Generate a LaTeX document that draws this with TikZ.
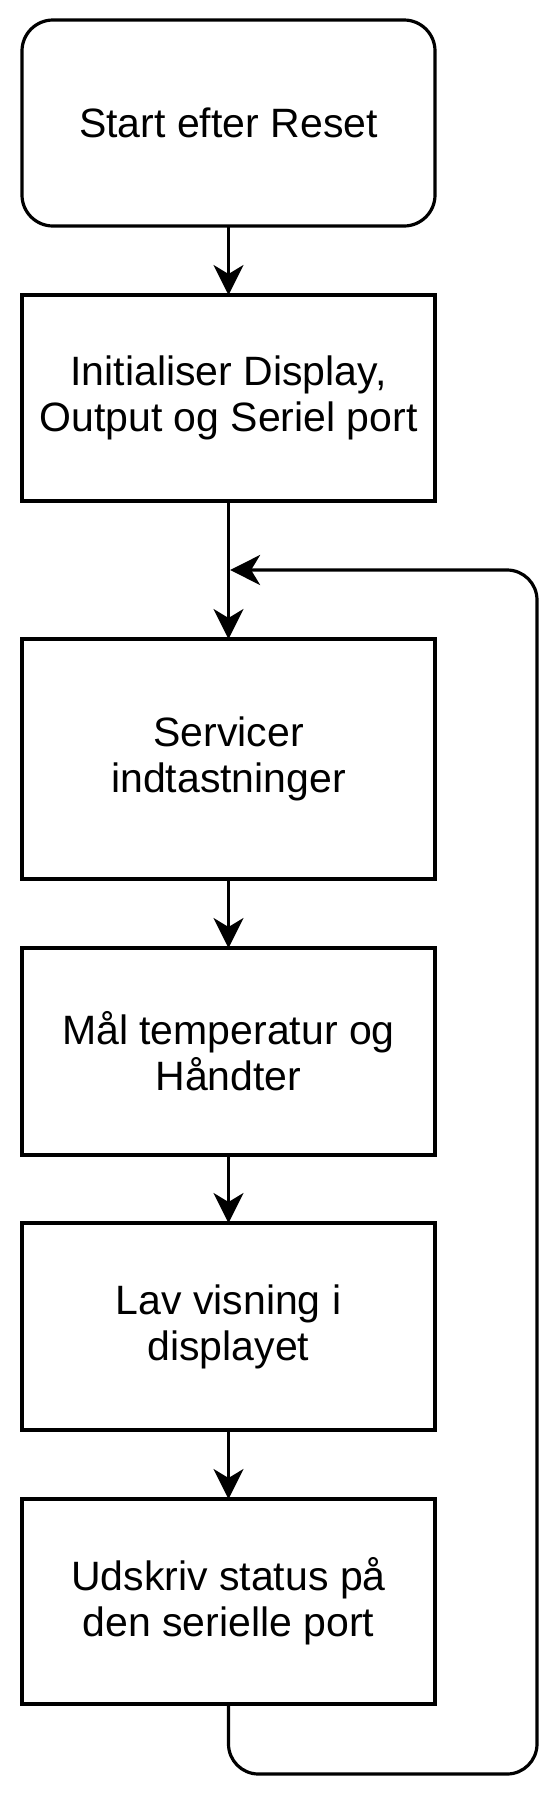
\documentclass[tikz,border=0pt]{standalone}
\usepackage{fontspec}
\setmainfont{Liberation Sans}
\usetikzlibrary{arrows.meta}
\begin{document}
\begin{tikzpicture}[x=1pt,y=-1pt,
  box/.style={draw, line width=3.2pt, minimum width=413pt, inner sep=0pt, outer sep=0pt, align=center, font=\fontsize{41}{46}\selectfont},
  conn/.style={line width=3.2pt, -{Stealth[length=30pt,width=30pt,inset=9pt]}}
]
\useasboundingbox (0,0) rectangle (549,1794);
\node[box, rounded corners=31pt, minimum height=206pt] (b1) at (228.5,123) {Start efter Reset};
\node[box, minimum height=206pt] (b2) at (228.5,398) {Initialiser Display,\\Output og Seriel port};
\node[box, minimum height=240pt] (b3) at (228.5,759) {Servicer\\indtastninger};
\node[box, minimum height=207pt] (b4) at (228.5,1051.5) {Mål temperatur og\\Håndter};
\node[box, minimum height=207pt] (b5) at (228.5,1326.5) {Lav visning i\\displayet};
\node[box, minimum height=205pt] (b6) at (228.5,1601.5) {Udskriv status på\\den serielle port};
\coordinate (j) at (230.1,570);
\coordinate (lb) at (228.5,1774);
\coordinate (rr) at (537,1774);
\draw[conn] (b1) -- (b2);
\draw[conn] (b2) -- (b3);
\draw[conn] (b3) -- (b4);
\draw[conn] (b4) -- (b5);
\draw[conn] (b5) -- (b6);
\draw[conn, rounded corners=30pt] (b6.south) -- (lb) -- (rr) |- (j);
\end{tikzpicture}
\end{document}
